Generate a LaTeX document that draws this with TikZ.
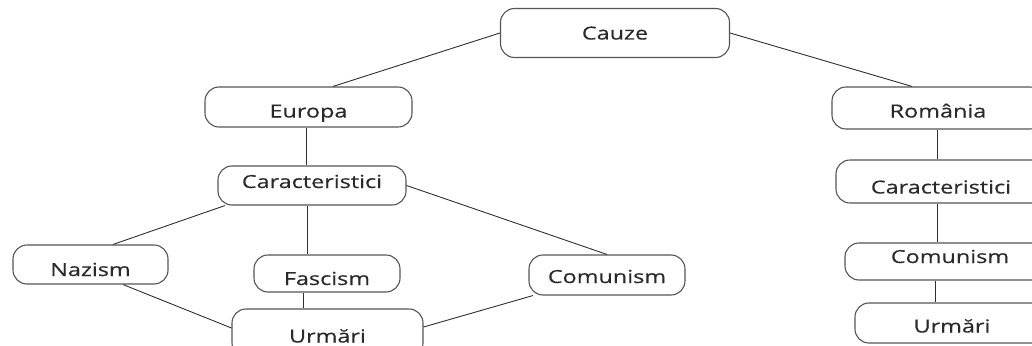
\documentclass[tikz,border=0pt]{standalone}
\usepackage{fontspec}
\newfontfamily\dfont{Open Sans}[FakeStretch=1.3,FakeBold=0.35]
\definecolor{boxline}{HTML}{555555}
\definecolor{conline}{HTML}{303030}
\definecolor{txt}{HTML}{2A2A2A}
\tikzset{
  box/.style={draw=boxline, line width=1.1pt, rounded corners=14pt, fill=white,
    inner sep=0pt, text=txt, font=\dfont\fontsize{18pt}{20pt}\selectfont,
    text height=13pt, text depth=0pt},
  conn/.style={draw=conline, line width=0.9pt}
}
\begin{document}
\begin{tikzpicture}[x=1pt,y=-1pt]
\clip (0,0) rectangle (1032,345);
\fill[white] (0,0) rectangle (1032,345);
% nodes
\node[box, minimum width=229pt, minimum height=49pt] (cauze) at (615,33) {Cauze};
\node[box, minimum width=207pt, minimum height=40pt, text height=21pt] (europa) at (308.5,107) {Europa};
\node[box, minimum width=188pt, minimum height=39pt, text depth=8pt] (carL) at (312,185.5) {Caracteristici};
\node[box, minimum width=155pt, minimum height=39pt, text height=23pt] (nazism) at (90.5,264.5) {Nazism};
\node[box, minimum width=146pt, minimum height=37pt, text height=23pt] (fascism) at (327,273.5) {Fascism};
\node[box, minimum width=156pt, minimum height=40pt, text height=16pt] (comL) at (607,275) {Comunism};
\node[box, minimum width=191pt, minimum height=48pt, text height=19pt] (urmL) at (327.5,333) {Urmări};
\node[box, minimum width=212pt, minimum height=42pt, text height=19pt] (romania) at (938,108) {România};
\node[box, minimum width=210pt, minimum height=43pt, text height=24pt] (carR) at (941,181.5) {Caracteristici};
\node[box, minimum width=210pt, minimum height=37pt, text depth=10pt] (comR) at (950,261.5) {Comunism};
\node[box, minimum width=194pt, minimum height=40pt, text height=19pt] (urmR) at (952,323) {Urmări};
% connectors
\draw[conn] (cauze.west) -- ([xshift=24.5pt]europa.north);
\draw[conn] (cauze.east) -- ([xshift=-26pt]romania.north);
\draw[conn] ([xshift=-2.5pt]europa.south) -- ([xshift=-2.5pt]europa.south |- carL.north);
\draw[conn] ([xshift=-87pt]carL.south) -- ([xshift=22.5pt]nazism.north);
\draw[conn] ([xshift=-5pt]carL.south) -- ([xshift=-5pt]carL.south |- fascism.north);
\draw[conn] (carL.east) -- (comL.north);
\draw[conn] ([xshift=32.5pt]nazism.south) -- ([yshift=5pt]urmL.west);
\draw[conn] ([xshift=-24pt]fascism.south) -- ([xshift=-24pt]fascism.south |- urmL.north);
\draw[conn] ([yshift=6pt]urmL.east) -- ([xshift=-74pt]comL.south);
\draw[conn] ([xshift=-1pt]romania.south) -- ([xshift=-1pt]romania.south |- carR.north);
\draw[conn] ([xshift=-4pt]carR.south) -- ([xshift=-4pt]carR.south |- comR.north);
\draw[conn] ([xshift=-15pt]comR.south) -- ([xshift=-15pt]comR.south |- urmR.north);
\end{tikzpicture}
\end{document}
